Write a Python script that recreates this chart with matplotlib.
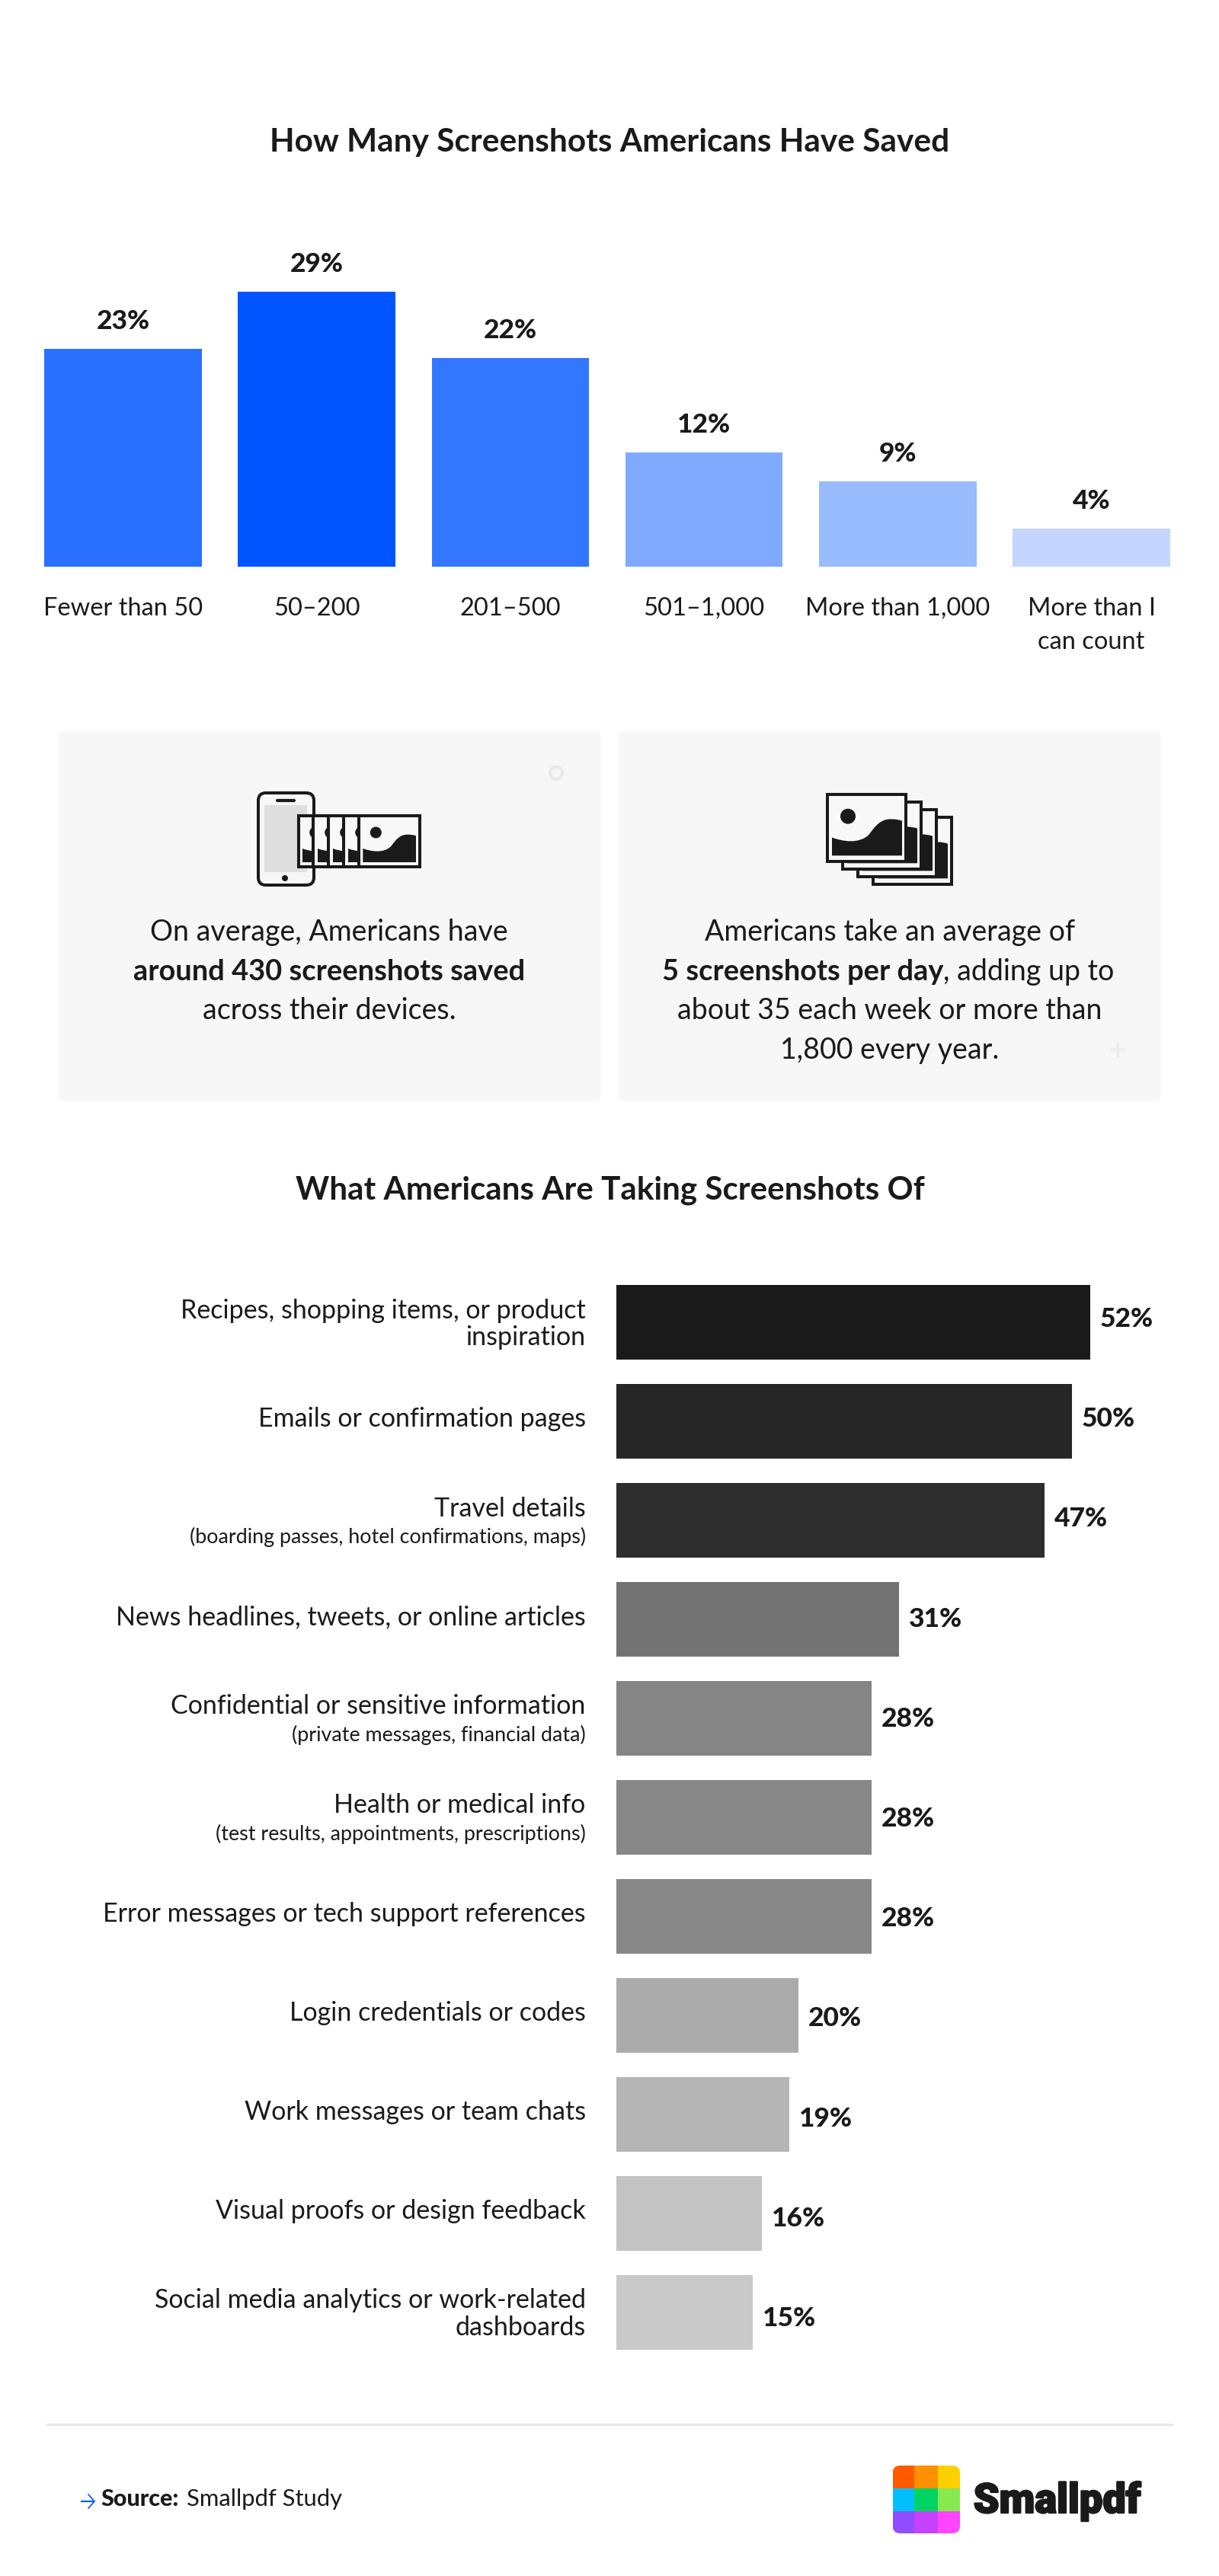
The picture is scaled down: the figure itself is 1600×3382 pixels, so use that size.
import matplotlib

matplotlib.use("Agg")
import matplotlib.patheffects as pe
import matplotlib.pyplot as plt
from matplotlib.patches import Circle, FancyBboxPatch, PathPatch, Rectangle
from matplotlib.path import Path

W, H = 1600, 3382
FONT = "Lato"
INK = "#1a1a1a"
CARD = "#f7f7f7"

plt.rcParams["font.family"] = [FONT, "DejaVu Sans"]

# first chart
saved_labels = ["Fewer than 50", "50–200", "201–500", "501–1,000", "More than 1,000", "More than I\ncan count"]
saved_values = [23, 29, 22, 12, 9, 4]
saved_colors = ["#2970ff", "#0055ff", "#3377ff", "#80aaff", "#99bbff", "#c4d6ff"]

# second chart: (main line(s), small line)
topic_labels = [
    "Recipes, shopping items, or product\ninspiration",
    "Emails or confirmation pages",
    "Travel details",
    "News headlines, tweets, or online articles",
    "Confidential or sensitive information",
    "Health or medical info",
    "Error messages or tech support references",
    "Login credentials or codes",
    "Work messages or team chats",
    "Visual proofs or design feedback",
    "Social media analytics or work-related\ndashboards",
]
topic_notes = [
    "", "", "(boarding passes, hotel confirmations, maps)", "",
    "(private messages, financial data)", "(test results, appointments, prescriptions)",
    "", "", "", "", "",
]
topic_values = [52, 50, 47, 31, 28, 28, 28, 20, 19, 16, 15]
topic_colors = ["#1a1a1a", "#262626", "#2d2d2d", "#737373", "#858585", "#888888",
                "#888888", "#ababab", "#b5b5b5", "#c3c3c3", "#c9c9c9"]

logo_colors = [["#ff5a00", "#ff9000", "#ffd000"],
               ["#00bfff", "#00d563", "#88e84f"],
               ["#8f4dff", "#c542ff", "#ff45ff"]]


def axes_at(fig, x0, y0, x1, y1):
    """Axes placed by pixel box, y0 is the top edge."""
    ax = fig.add_axes([x0 / W, 1 - y1 / H, (x1 - x0) / W, (y1 - y0) / H])
    ax.patch.set_visible(False)
    for s in ax.spines.values():
        s.set_visible(False)
    return ax


def hill(x0, y0, sx, sy):
    """Landscape shape from the picture icons, anchored on its bottom left corner."""
    pts = [(0, -54), (31, -43), (81, -33), (111, -63), (131, -90), (146, -109), (176, -109),
           (191, -109), (201, -107), (210, -104), (210, 0), (0, 0), (0, -54)]
    codes = [Path.MOVETO] + [Path.CURVE4] * 9 + [Path.LINETO, Path.LINETO, Path.CLOSEPOLY]
    return Path([(x0 + px * sx, y0 + py * sy) for px, py in pts], codes)


def round_box(x, y, w, h, r, **kw):
    return FancyBboxPatch((x, y), w, h, boxstyle=f"round,pad=0,rounding_size={r}", **kw)


fig = plt.figure(figsize=(W / 100, H / 100), dpi=100, facecolor="white")

bg = fig.add_axes([0, 0, 1, 1])
bg.set_xlim(0, W)
bg.set_ylim(H, 0)
bg.axis("off")

bg.text(800, 198.5, "How Many Screenshots Americans Have Saved", ha="center", va="baseline",
        fontsize=30.5, fontweight="bold", color=INK)
bg.text(800.5, 1574, "What Americans Are Taking Screenshots Of", ha="center", va="baseline",
        fontsize=30.3, fontweight="bold", color=INK)

# cards
for x0 in (77, 812):
    bg.add_patch(round_box(x0, 960, 711, 485.5, 6, fc=CARD, ec="none"))
bg.add_patch(Circle((730, 1015), 8, fc="none", ec="#e8e8e8", lw=2.9))
bg.plot([1456.5, 1476.5], [1377.5, 1377.5], color="#ececec", lw=2.9, solid_capstyle="butt")
bg.plot([1466.5, 1466.5], [1367.5, 1387.5], color="#ececec", lw=2.9, solid_capstyle="butt")

card_size = 27
for y, txt, wgt, size in [(1235, "On average, Americans have", "normal", card_size),
                          (1287, "around 430 screenshots saved", "bold", 27.4),
                          (1338.5, "across their devices.", "normal", card_size)]:
    bg.text(432, y, txt, ha="center", va="baseline", fontsize=size, fontweight=wgt, color=INK)

bg.text(1168, 1235, "Americans take an average of", ha="center", va="baseline", fontsize=card_size, color=INK)
bg.text(1238, 1287, "5 screenshots per day", ha="right", va="baseline", fontsize=27.4,
        fontweight="bold", color=INK)
bg.text(1238, 1287, ", adding up to", ha="left", va="baseline", fontsize=card_size, color=INK)
bg.text(1168, 1338.5, "about 35 each week or more than", ha="center", va="baseline", fontsize=card_size, color=INK)
bg.text(1168, 1390, "1,800 every year.", ha="center", va="baseline", fontsize=card_size, color=INK)

# phone icon
bg.add_patch(Rectangle((347, 1057), 56, 88, fc="#dedede", ec="none"))
bg.add_patch(round_box(339, 1041, 73, 121, 10, fc="none", ec=INK, lw=2.9))
bg.plot([364, 386], [1051, 1051], color=INK, lw=3, solid_capstyle="round")
bg.add_patch(Circle((374, 1153), 4, fc=INK, ec="none"))
bg.add_patch(Rectangle((391.5, 1070.5), 159, 67, fc="#f8f8f8", ec=INK, lw=2.9))
for sep_x in (411, 431, 451, 471):
    bg.plot([sep_x, sep_x], [1070, 1138], color=INK, lw=2.9, solid_capstyle="butt")
for left, right in [(396.7, 409.3), (416.7, 429.3), (436.7, 449.3), (456.7, 469.3), (476.3, 546.3)]:
    window = Rectangle((left, 1070), right - left, 68, transform=bg.transData)
    sun = bg.add_patch(Circle((left + 17, 1093), 7.5, fc=INK, ec="none"))
    land = bg.add_patch(PathPatch(hill(left, 1132, 1 / 3, 1 / 3), fc=INK, ec="none"))
    sun.set_clip_path(window)
    land.set_clip_path(window)

# stacked pictures icon
for k in (3, 2, 1, 0):
    dx, dy = 20 * k, 10 * k
    bg.add_patch(Rectangle((1085.7 + dx, 1042.5 + dy), 103.4, 88.5, fc="#f8f8f8", ec=INK, lw=2.9))
    bg.add_patch(PathPatch(hill(1092 + dx, 1123.3 + dy, 92 / 210, 79 / 109 / 1.65), fc=INK, ec="none"))
    bg.add_patch(Circle((1113 + dx, 1071.7 + dy), 10, fc=INK, ec="none"))

# first chart
ax1 = axes_at(fig, 58, 383, 1536, 743.5)
xs = list(range(len(saved_values)))
ax1.bar(xs, saved_values, width=0.813, color=saved_colors)
ax1.set_xlim(-0.4065, 5.4065)
ax1.set_ylim(0, 29)
ax1.set_yticks([])
ax1.set_xticks(xs, saved_labels, fontsize=23.5, color=INK, linespacing=1.6, va="top")
ax1.tick_params(axis="x", length=0, pad=29)
for x, v in zip(xs, saved_values):
    ax1.annotate(f"{v}%", xy=(x, v), xytext=(0, 26), textcoords="offset pixels", ha="center",
                 va="baseline", fontsize=25.5, fontweight=900, color=INK, annotation_clip=False)

# second chart
ax2 = axes_at(fig, 809, 1671, 1430.7, 3101)
ys = list(range(len(topic_values)))
ax2.barh(ys, topic_values, height=98 / 130, color=topic_colors)
ax2.set_xlim(0, 52)
ax2.set_ylim(10.5, -0.5)
ax2.set_xticks([])
ax2.set_yticks([])
for y, label, note, v in zip(ys, topic_labels, topic_notes, topic_values):
    ax2.annotate(f"{v}%", xy=(v, y), xytext=(13, -6 - 1.2 * y), textcoords="offset pixels", ha="left",
                 va="baseline", fontsize=25.5, fontweight=900, color=INK, annotation_clip=False)
    lines = label.split("\n")
    if note:
        placed = [(lines[0], 5.5, 24.5), (note, -30, 19.4)]
    elif len(lines) == 2:
        placed = [(lines[0], 5.5, 24.5), (lines[1], -29.7, 24.5)]
    else:
        placed = [(lines[0], -7, 24.5)]
    for txt, off, size in placed:
        ax2.annotate(txt, xy=(0, y), xytext=(-40.3, off), textcoords="offset pixels", ha="right",
                     va="baseline", fontsize=size, color=INK, annotation_clip=False)

# footer
bg.plot([60, 1540], [3183, 3183], color="#e8e8e8", lw=2.2, solid_capstyle="butt")
bg.plot([106, 124], [3284, 3284], color="#0055ff", lw=1.5, solid_capstyle="butt")
bg.plot([116, 124, 116], [3275, 3284, 3293], color="#0055ff", lw=1.2, solid_joinstyle="miter")
bg.text(132.6, 3290, "Source:", ha="left", va="baseline", fontsize=22, fontweight=900, color=INK)
bg.text(245, 3290, "Smallpdf Study", ha="left", va="baseline", fontsize=22.3, color=INK)

logo_clip = round_box(1171.7, 3237, 88.3, 89, 10, fc="none", ec="none")
bg.add_patch(logo_clip)
col_edges = [1171.7, 1200.3, 1231.3, 1260]
row_edges = [3237, 3266.7, 3297.3, 3326]
for r, row in enumerate(logo_colors):
    for c, col in enumerate(row):
        cell = bg.add_patch(Rectangle((col_edges[c], row_edges[r]), col_edges[c + 1] - col_edges[c],
                                      row_edges[r + 1] - row_edges[r], fc=col, ec="none"))
        cell.set_clip_path(logo_clip)
bg.text(1277.7, 3299, "Smallpdf", ha="left", va="baseline", fontsize=39, fontweight=900,
        family=["Roboto", "DejaVu Sans"], color=INK,
        path_effects=[pe.withStroke(linewidth=1.6, foreground=INK)])

fig.savefig("out.png", dpi=100)
plt.close(fig)
